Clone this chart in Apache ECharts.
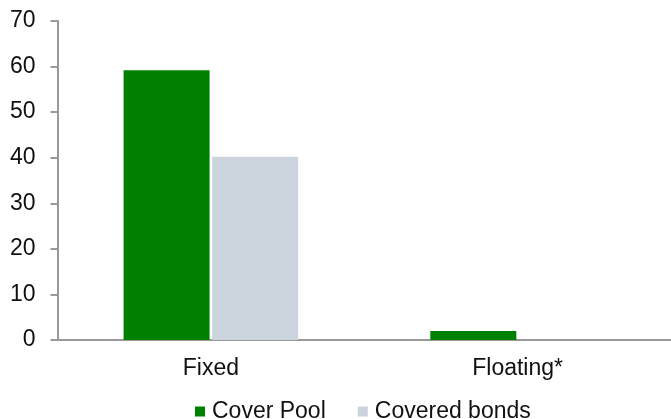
<!DOCTYPE html>
<html>
<head>
<meta charset="utf-8">
<script src="https://cdn.jsdelivr.net/npm/echarts@6/dist/echarts.min.js"></script>
<style>
  html, body { margin: 0; padding: 0; background: #fff; }
  #chart { width: 671px; height: 419px; }
</style>
</head>
<body>
<div id="chart"></div>
<script>
// Interest rate type breakdown (%)
const categories = ['Fixed', 'Floating*'];
const coverPool = [59.2, 2.0];
const coveredBonds = [40.2, 0];
const yTicks = { min: 0, max: 70, interval: 10 };

const font = 'Liberation Sans, Arial, sans-serif';
const axisGrey = '#999999';

const chart = echarts.init(document.getElementById('chart'), null, { renderer: 'canvas' });
chart.setOption({
  animation: false,
  backgroundColor: '#ffffff',
  grid: { left: 57.5, right: 0, top: 21, bottom: 79, containLabel: false },
  legend: {
    left: 190,
    top: 395,
    itemWidth: 10,
    itemHeight: 10,
    itemGap: 32,
    icon: 'rect',
    textStyle: { fontFamily: font, fontSize: 23, color: '#111', padding: [0, 0, 0, 2] },
    data: ['Cover Pool', 'Covered bonds']
  },
  xAxis: {
    type: 'category',
    data: categories,
    axisLine: { lineStyle: { color: axisGrey, width: 2 } },
    axisTick: { show: false },
    axisLabel: { fontFamily: font, fontSize: 23, color: '#111', margin: 17 }
  },
  yAxis: {
    type: 'value',
    min: yTicks.min,
    max: yTicks.max,
    interval: yTicks.interval,
    splitLine: { show: false },
    axisLine: { show: true, lineStyle: { color: axisGrey, width: 2 } },
    axisTick: { show: true, length: 7, lineStyle: { color: axisGrey, width: 2 } },
    axisLabel: { fontFamily: font, fontSize: 23, color: '#111', margin: 22 }
  },
  series: [
    {
      name: 'Cover Pool',
      type: 'bar',
      data: coverPool,
      barWidth: 86,
      barGap: '3%',
      itemStyle: { color: '#008000' }
    },
    {
      name: 'Covered bonds',
      type: 'bar',
      data: coveredBonds,
      barWidth: 86,
      itemStyle: { color: '#cbd3dc' }
    }
  ]
});
</script>
</body>
</html>
